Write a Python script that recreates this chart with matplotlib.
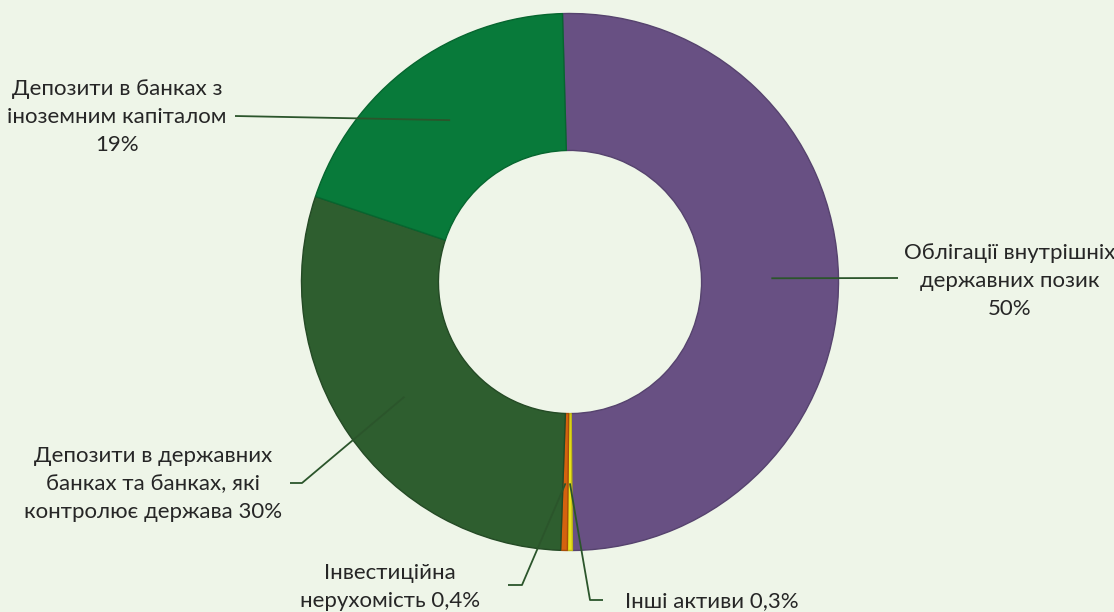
import matplotlib
matplotlib.use("Agg")
import matplotlib.pyplot as plt
import numpy as np

# ---- data ----
categories = [
    "Облігації внутрішніх державних позик",
    "Інші активи",
    "Інвестиційна нерухомість",
    "Депозити в державних банках та банках, які контролює держава",
    "Депозити в банках з іноземним капіталом",
]
values = [50.3, 0.3, 0.4, 29.6, 19.4]
label_texts = [
    "Облігації внутрішніх\nдержавних позик\n50%",
    "Інші активи 0,3%",
    "Інвестиційна\nнерухомість 0,4%",
    "Депозити в державних\nбанках та банках, які\nконтролює держава 30%",
    "Депозити в банках з\nіноземним капіталом\n19%",
]
colors = ["#685083", "#E8E21C", "#D4620F", "#2E5E2F", "#087A3A"]
edge_colors = ["#56436E", "#C0B815", "#A84E0C", "#244A25", "#06662F"]

BG = "#EEF5E8"
W, H = 1114, 612
CX, CY, R = 570.0, 282.0, 268.5

plt.rcParams['font.family'] = ['Lato', 'DejaVu Sans']

fig = plt.figure(figsize=(W / 100, H / 100), dpi=100, facecolor=BG)
ax = fig.add_axes([0, 0, 1, 1])
ax.set_facecolor(BG)
ax.axis('off')


def px(x, y):
    return ((x - CX) / R, (CY - y) / R)


start = 91.6
wedges, _ = ax.pie(values, colors=colors, startangle=start, counterclock=False,
                   radius=1.0, wedgeprops=dict(width=0.51, linewidth=1.0),
                   normalize=True)
for w, ec in zip(wedges, edge_colors):
    w.set_edgecolor(ec)
ax.set_xlim(-CX / R, (W - CX) / R)
ax.set_ylim(-(H - CY) / R, CY / R)
ax.set_aspect('auto')

# mid angles of wedges for leader anchors
total = sum(values)
angles = []
a = start
for v in values:
    span = 360.0 * v / total
    angles.append(a - span / 2)
    a -= span

anchor_r = 0.75
anchors = [(anchor_r * np.cos(np.radians(t)), anchor_r * np.sin(np.radians(t))) for t in angles]

line_col = "#2B552B"
text_col = "#262626"
fs = 16
ls = 1.5

# label layout (pixel positions): (text pos, ha, elbow points)
layout = [
    ((1010, 281), 'center', [(898, 278)]),
    ((625, 601), 'left', [(590, 600), (603, 600)]),
    ((390, 587), 'center', [(522, 585), (508, 585)]),
    ((153, 484), 'center', [(302, 483), (290, 483)]),
    ((117, 117), 'center', [(235, 116)]),
]

for anc, txt, (tpos, ha, elbows) in zip(anchors, label_texts, layout):
    pts = [anc] + [px(*e) for e in elbows]
    xs, ys = zip(*pts)
    ax.plot(xs, ys, color=line_col, lw=1.3, solid_capstyle='butt')
    tx, ty = px(*tpos)
    ax.text(tx, ty, txt, ha=ha, va='center', ma='center', fontsize=fs,
            color=text_col, linespacing=ls)

fig.savefig("out.png", dpi=100, facecolor=BG)
